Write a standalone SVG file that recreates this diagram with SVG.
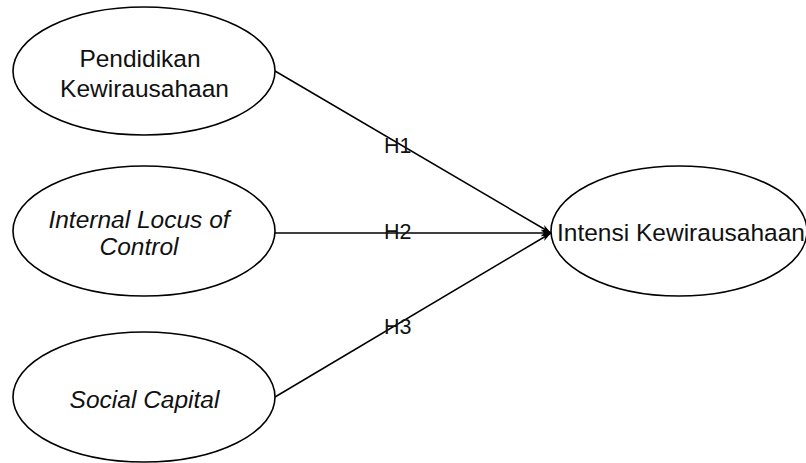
<svg xmlns="http://www.w3.org/2000/svg" width="806" height="463" viewBox="0 0 806 463">
<style>
.node ellipse{fill:#fff;stroke:#000;stroke-width:1.6}
.t{font-family:"Liberation Sans",Arial,sans-serif;font-size:24.5px;fill:#111}
.it{font-style:italic}
.lbl{font-family:"Liberation Sans",Arial,sans-serif;font-size:21.5px;fill:#111}
.edge{stroke:#000;stroke-width:1.5;fill:none;marker-end:url(#arr)}
</style>
<defs>
<marker id="arr" viewBox="0 0 10 10" refX="10" refY="5" markerWidth="10" markerHeight="10" markerUnits="userSpaceOnUse" orient="auto">
<path d="M0,1.5 L10,5 L0,8.5 L3,5 Z" fill="#000"/>
</marker>
</defs>
<rect width="806" height="463" fill="#fff"/>
<g id="connectors">
<line class="edge" x1="275" y1="71" x2="551" y2="233"/>
<line class="edge" x1="275" y1="233" x2="551" y2="233"/>
<line class="edge" x1="275" y1="397" x2="551" y2="233"/>
</g>
<g id="n1" class="node">
<ellipse cx="144" cy="71" rx="131" ry="64"/>
<text class="t" x="140" y="67" text-anchor="middle">Pendidikan</text>
<text class="t" x="144.5" y="97" text-anchor="middle">Kewirausahaan</text>
</g>
<g id="n2" class="node">
<ellipse cx="144" cy="231" rx="131" ry="65"/>
<text class="t it" x="139" y="228" text-anchor="middle">Internal Locus of</text>
<text class="t it" x="139" y="255" text-anchor="middle">Control</text>
</g>
<g id="n3" class="node">
<ellipse cx="144" cy="397" rx="131" ry="65"/>
<text class="t it" x="144.5" y="408" text-anchor="middle">Social Capital</text>
</g>
<g id="n4" class="node">
<ellipse cx="679" cy="231" rx="128" ry="65"/>
<text class="t" x="557" y="241">Intensi Kewirausahaan</text>
</g>
<g id="labels">
<text class="lbl" x="384" y="153">H1</text>
<text class="lbl" x="384" y="239">H2</text>
<text class="lbl" x="384" y="334">H3</text>
</g>
</svg>
